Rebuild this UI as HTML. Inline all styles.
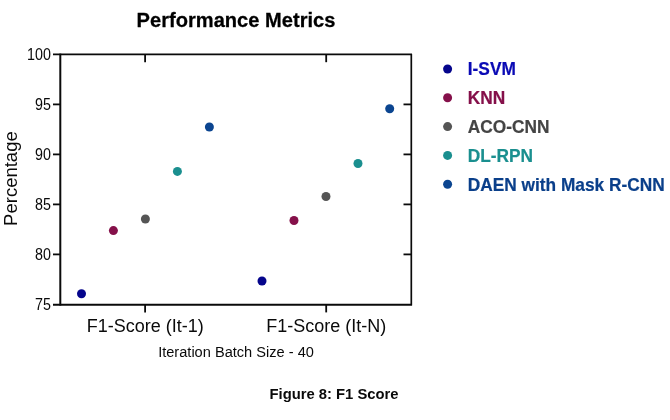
<!DOCTYPE html>
<html><head><meta charset="utf-8">
<style>
html,body{margin:0;padding:0;background:#fff;}
svg{display:block;}
text{font-family:"Liberation Sans",sans-serif;}
</style></head><body>
<svg width="670" height="420" viewBox="0 0 670 420">
<rect width="670" height="420" fill="#fff"/>
<text transform="translate(236.0,27.4) scale(1,1.04)" text-anchor="middle" font-size="20.1" font-weight="bold" fill="#000" stroke="#000" stroke-width="0.25">Performance Metrics</text>
<g stroke="#0a0a0a" fill="none">
<line x1="60.3" y1="53.6" x2="60.3" y2="305.6" stroke-width="2"/>
<line x1="53" y1="304.7" x2="412.1" y2="304.7" stroke-width="2.1"/>
<line x1="53" y1="54.3" x2="412" y2="54.3" stroke-width="1.8"/>
<line x1="411.3" y1="54" x2="411.3" y2="304.4" stroke-width="1.7"/>
<g stroke-width="1.8">
<line x1="53" y1="104.4" x2="60" y2="104.4"/><line x1="403.5" y1="104.4" x2="411" y2="104.4"/>
<line x1="53" y1="154.4" x2="60" y2="154.4"/><line x1="403.5" y1="154.4" x2="411" y2="154.4"/>
<line x1="53" y1="204.4" x2="60" y2="204.4"/><line x1="403.5" y1="204.4" x2="411" y2="204.4"/>
<line x1="53" y1="254.4" x2="60" y2="254.4"/><line x1="403.5" y1="254.4" x2="411" y2="254.4"/>
<line x1="145.1" y1="54.4" x2="145.1" y2="62.2"/><line x1="145.1" y1="304.4" x2="145.1" y2="312.4"/>
<line x1="326.2" y1="54.4" x2="326.2" y2="62.2"/><line x1="326.2" y1="304.4" x2="326.2" y2="312.4"/>
</g></g>
<g fill="#0a0a0a">
<text transform="translate(50.9,60.1) scale(1,1.1)" text-anchor="end" font-size="14.3" >100</text>
<text transform="translate(50.9,110.1) scale(1,1.1)" text-anchor="end" font-size="14.3" >95</text>
<text transform="translate(50.9,160.1) scale(1,1.1)" text-anchor="end" font-size="14.3" >90</text>
<text transform="translate(50.9,210.1) scale(1,1.1)" text-anchor="end" font-size="14.3" >85</text>
<text transform="translate(50.9,260.1) scale(1,1.1)" text-anchor="end" font-size="14.3" >80</text>
<text transform="translate(50.9,310.1) scale(1,1.1)" text-anchor="end" font-size="14.3" >75</text>
<text transform="translate(16.5,178.6) rotate(-90) scale(1.04,1)" text-anchor="middle" font-size="17.8">Percentage</text>
<text transform="translate(145.2,331.6) scale(1,1.05)" text-anchor="middle" font-size="18" >F1-Score (It-1)</text>
<text transform="translate(326.2,331.6) scale(1,1.05)" text-anchor="middle" font-size="18" >F1-Score (It-N)</text>
<text transform="translate(236,357.2) scale(1,1.03)" text-anchor="middle" font-size="14.6" >Iteration Batch Size - 40</text>
<text transform="translate(334,399) scale(1,1.05)" text-anchor="middle" font-size="14.8" font-weight="bold">Figure 8: F1 Score</text>
</g>
<circle cx="81.5" cy="293.8" r="4.5" fill="#05058c"/>
<circle cx="113.4" cy="230.6" r="4.5" fill="#85104a"/>
<circle cx="145.4" cy="219" r="4.5" fill="#555"/>
<circle cx="177.4" cy="171.4" r="4.5" fill="#1a8f8f"/>
<circle cx="209.4" cy="127" r="4.5" fill="#0b4590"/>
<circle cx="262" cy="281" r="4.5" fill="#05058c"/>
<circle cx="294" cy="220.5" r="4.5" fill="#85104a"/>
<circle cx="326" cy="196.5" r="4.5" fill="#555"/>
<circle cx="358" cy="163.5" r="4.5" fill="#1a8f8f"/>
<circle cx="389.7" cy="108.8" r="4.5" fill="#0b4590"/>
<circle cx="447.6" cy="69.0" r="4.5" fill="#05058c"/>
<text transform="translate(467.8,75.3) scale(1,1.05)" text-anchor="start" font-size="17.3" font-weight="bold" fill="#0a0ab5" stroke="#0a0ab5" stroke-width="0.2">I-SVM</text>
<circle cx="447.6" cy="97.8" r="4.5" fill="#85104a"/>
<text transform="translate(467.8,104.1) scale(1,1.05)" text-anchor="start" font-size="17.3" font-weight="bold" fill="#85104a" stroke="#85104a" stroke-width="0.2">KNN</text>
<circle cx="447.6" cy="126.6" r="4.5" fill="#555"/>
<text transform="translate(467.8,132.9) scale(1,1.05)" text-anchor="start" font-size="17.3" font-weight="bold" fill="#444" stroke="#444" stroke-width="0.2">ACO-CNN</text>
<circle cx="447.6" cy="155.4" r="4.5" fill="#1a8f8f"/>
<text transform="translate(467.8,161.7) scale(1,1.05)" text-anchor="start" font-size="17.3" font-weight="bold" fill="#1a8f8f" stroke="#1a8f8f" stroke-width="0.2">DL-RPN</text>
<circle cx="447.6" cy="184.2" r="4.5" fill="#0b4590"/>
<text transform="translate(467.8,190.5) scale(1,1.05)" text-anchor="start" font-size="17.3" font-weight="bold" fill="#0a3f8a" stroke="#0a3f8a" stroke-width="0.2">DAEN with Mask R-CNN</text>
</svg>
</body></html>
